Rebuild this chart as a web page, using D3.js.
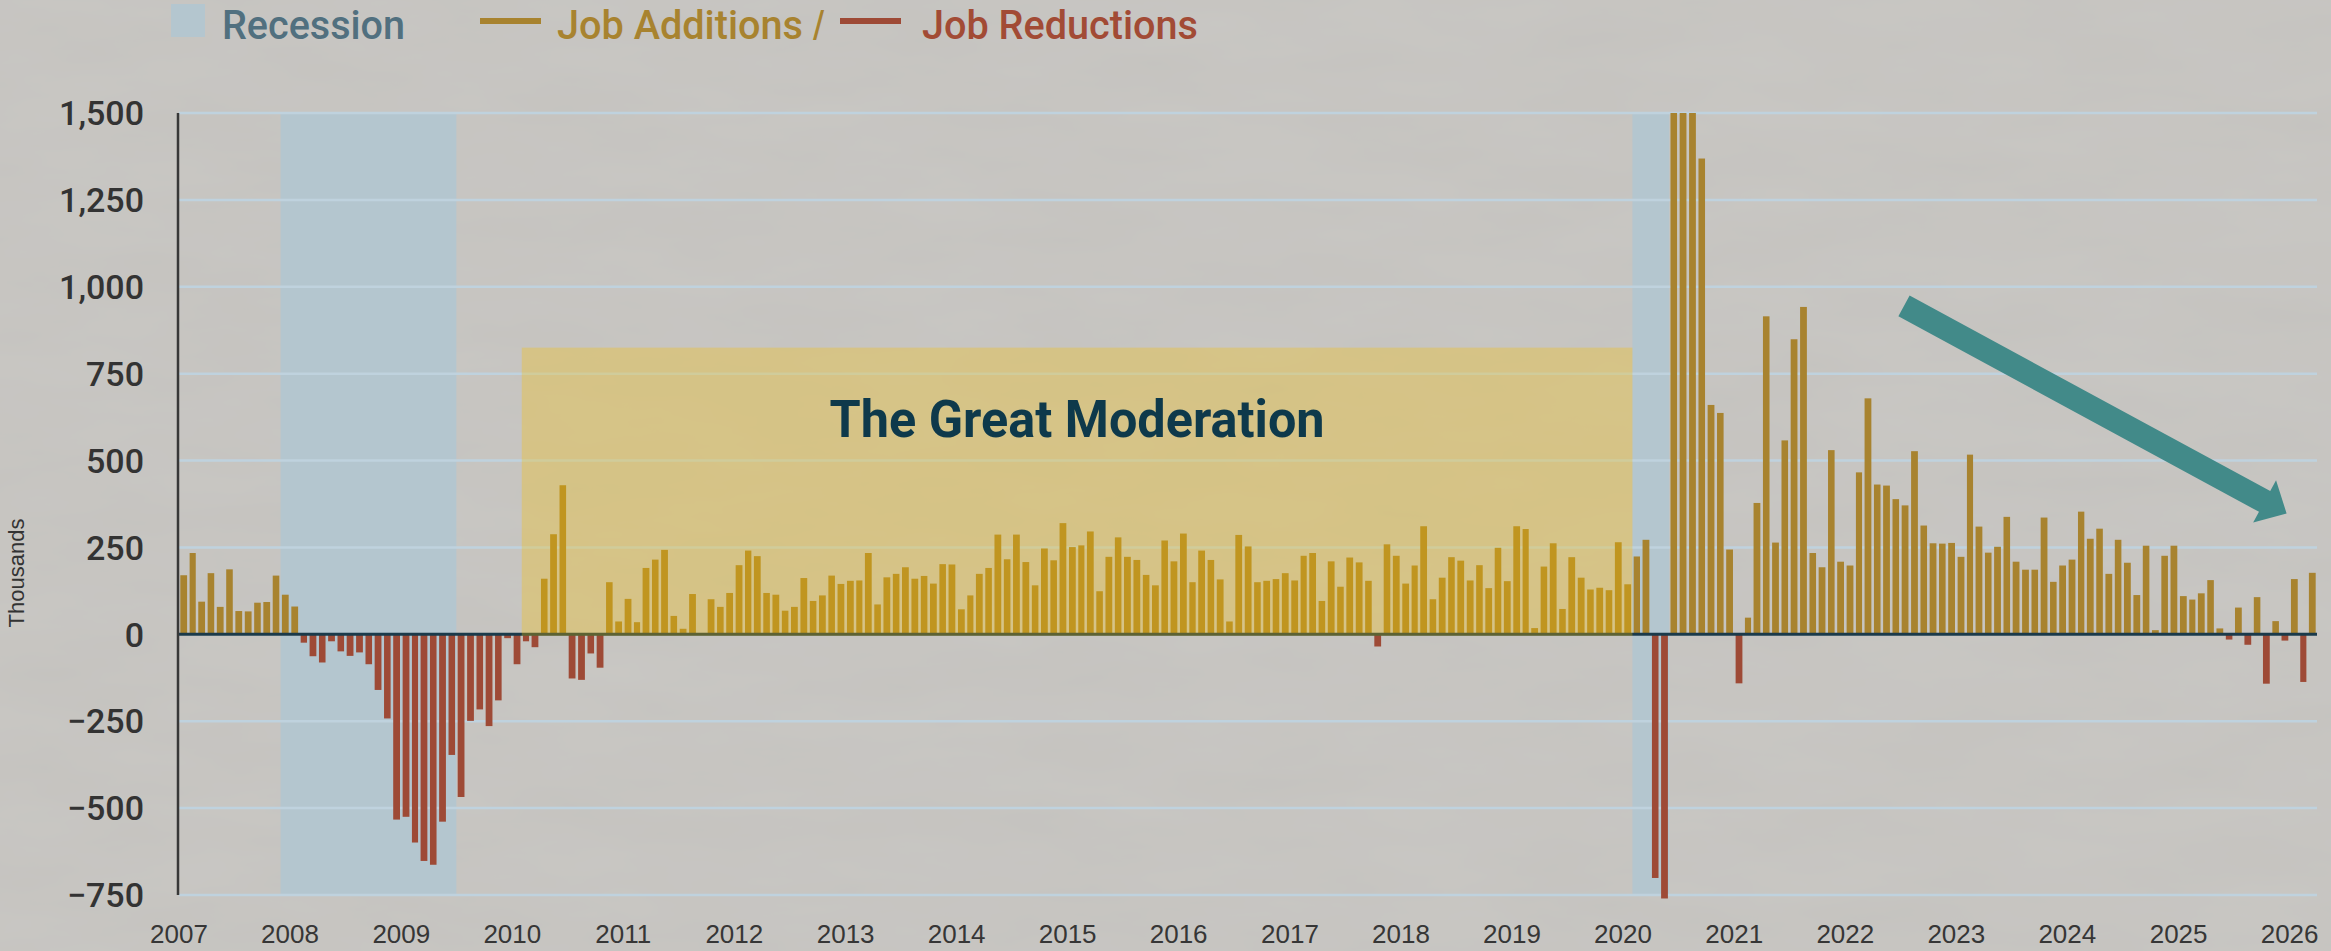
<!DOCTYPE html>
<html>
<head>
<meta charset="utf-8">
<script src="https://cdn.jsdelivr.net/npm/d3@7"></script>
<style>
  html, body { margin: 0; padding: 0; background: #c3c1bd; overflow: hidden; }
  svg { display: block; }
</style>
</head>
<body>
<svg id="chart"></svg>
<script>
// monthly change in payrolls, thousands, one value per month from Jan 2007
const firstMonth = "2007-01";
const jobChanges = [
  170, 234, 94, 176, 79, 187, 67, 66, 91, 93, 169, 114,              // 2007
  80, -24, -63, -81, -20, -49, -62, -52, -86, -160, -242, -533,       // 2008
  -525, -599, -652, -663, -539, -347, -468, -249, -216, -264, -190, -11, // 2009
  -86, -20, -37, 160, 288, 429, -127, -131, -55, -96, 150, 37,        // 2010
  102, 35, 191, 215, 243, 53, 16, 116, 0, 101, 79, 119,               // 2011
  199, 241, 225, 119, 114, 68, 79, 162, 96, 112, 169, 145,            // 2012
  154, 155, 234, 86, 164, 174, 193, 160, 168, 146, 202, 201,          // 2013
  72, 112, 174, 191, 287, 216, 287, 208, 141, 247, 213, 320,          // 2014
  251, 256, 296, 124, 223, 279, 223, 214, 171, 141, 270, 210,         // 2015
  290, 150, 241, 214, 158, 37, 286, 253, 150, 154, 159, 176,          // 2016
  155, 226, 234, 96, 210, 137, 221, 207, 154, -35, 259, 226,          // 2017
  146, 198, 311, 101, 163, 222, 212, 155, 199, 133, 249, 153,         // 2018
  311, 303, 18, 195, 262, 73, 222, 163, 129, 134, 127, 265,           // 2019
  144, 224, 272, -701, -760, 1500, 1500, 1500, 1369, 660, 637, 244,   // 2020 (clipped at chart edge)
  -141, 48, 378, 915, 264, 558, 849, 942, 234, 193, 530, 209,         // 2021
  198, 466, 679, 431, 428, 389, 371, 527, 313, 262, 261, 263,         // 2022
  223, 517, 310, 235, 252, 338, 209, 186, 186, 336, 151, 198,         // 2023
  215, 353, 275, 304, 174, 272, 206, 113, 255, 12, 226, 255,          // 2024
  110, 100, 118, 156, 17, -15, 77, -30, 107, -142, 38, -18,           // 2025
  159, -137, 177                                                      // 2026
];

const recessions = [["2007-12", "2009-07"], ["2020-02", "2020-06"]];
const moderationSpan = ["2010-02", "2020-02"];
const moderationTop = 825;
const moderationLabel = "The Great Moderation";
const yTickValues = [-750, -500, -250, 0, 250, 500, 750, 1000, 1250, 1500];
const xTickYears = [2007, 2008, 2009, 2010, 2011, 2012, 2013, 2014, 2015, 2016,
                    2017, 2018, 2019, 2020, 2021, 2022, 2023, 2024, 2025, 2026];
// trend arrow, start and tip in chart units
const arrowDates = ["2022-07-13", "2025-12-22"];
const arrowValues = [945, 348];

const W = 2331, H = 951;
const parseMonth = d3.timeParse("%Y-%m");
const parseDay = d3.timeParse("%Y-%m-%d");
const start = parseMonth(firstMonth);

const x = d3.scaleTime()
  .domain([start, parseMonth("2026-04")])
  .range([179, 2317]);
const y = d3.scaleLinear().domain([-750, 1500]).range([895, 113]);

const gold = "#a8832f", red = "#9e4a36", recessBlue = "#b4c6cf";

const svg = d3.select("#chart").attr("width", W).attr("height", H);

// paper texture
const defs = svg.append("defs");
const paper = defs.append("filter").attr("id", "paper").attr("x", 0).attr("y", 0).attr("width", "100%").attr("height", "100%");
paper.append("feTurbulence").attr("type", "fractalNoise").attr("baseFrequency", "0.006 0.02").attr("numOctaves", 4).attr("seed", 7);
paper.append("feColorMatrix").attr("type", "matrix")
  .attr("values", "0.35 0 0 0 0.45  0.35 0 0 0 0.45  0.35 0 0 0 0.45  0 0 0 0 0.09");

svg.append("rect").attr("width", W).attr("height", H).attr("fill", "#c6c4c0");
svg.append("rect").attr("width", W).attr("height", H).attr("filter", "url(#paper)");

// recession shading
svg.append("g").selectAll("rect").data(recessions).join("rect")
  .attr("x", d => x(parseMonth(d[0])))
  .attr("width", d => x(parseMonth(d[1])) - x(parseMonth(d[0])))
  .attr("y", y(1500))
  .attr("height", y(-750) - y(1500))
  .attr("fill", recessBlue);

// gridlines
svg.append("g").selectAll("line").data(yTickValues).join("line")
  .attr("x1", x.range()[0]).attr("x2", x.range()[1])
  .attr("y1", d => y(d)).attr("y2", d => y(d))
  .attr("stroke", "#bfd2de").attr("stroke-width", 2.5);

// bars
const months = jobChanges.map((v, i) => ({ date: d3.timeMonth.offset(start, i), value: v }));
svg.append("g").selectAll("rect").data(months).join("rect")
  .attr("x", d => {
    const x0 = x(d.date), x1 = x(d3.timeMonth.offset(d.date, 1));
    return x0 + (x1 - x0) * 0.14;
  })
  .attr("width", d => (x(d3.timeMonth.offset(d.date, 1)) - x(d.date)) * 0.72)
  .attr("y", d => y(Math.max(0, d.value)))
  .attr("height", d => Math.abs(y(d.value) - y(0)))
  .attr("fill", d => d.value >= 0 ? gold : red);

// zero line and y axis line
svg.append("line")
  .attr("x1", x.range()[0]).attr("x2", x.range()[1])
  .attr("y1", y(0)).attr("y2", y(0))
  .attr("stroke", "#1b3a4a").attr("stroke-width", 3);
svg.append("line")
  .attr("x1", 178).attr("x2", 178)
  .attr("y1", y(1500)).attr("y2", y(-750))
  .attr("stroke", "#383838").attr("stroke-width", 2.5);

// great moderation band, laid over the bars
const mx0 = x(parseMonth(moderationSpan[0])), mx1 = x(parseMonth(moderationSpan[1]));
svg.append("rect")
  .attr("x", mx0).attr("width", mx1 - mx0)
  .attr("y", y(moderationTop)).attr("height", y(0) - y(moderationTop) + 1.5)
  .attr("fill", "rgb(250,192,0)").attr("fill-opacity", 0.3);
svg.append("text")
  .attr("x", (mx0 + mx1) / 2).attr("y", 437)
  .attr("text-anchor", "middle")
  .attr("font-family", "Roboto, 'Liberation Sans', sans-serif")
  .attr("font-weight", 700).attr("font-size", 52)
  .attr("textLength", 495).attr("lengthAdjust", "spacingAndGlyphs")
  .attr("fill", "#0e394b")
  .text(moderationLabel);

// trend arrow
const p0 = [x(parseDay(arrowDates[0])), y(arrowValues[0])];
const p1 = [x(parseDay(arrowDates[1])), y(arrowValues[1])];
const len = Math.hypot(p1[0] - p0[0], p1[1] - p0[1]);
const u = [(p1[0] - p0[0]) / len, (p1[1] - p0[1]) / len];
const n = [-u[1], u[0]];
const headLen = 25, headHalf = 24, shaftHalf = 11.8;
const base = [p1[0] - u[0] * headLen, p1[1] - u[1] * headLen];
const pt = (p, k) => [p[0] + n[0] * k, p[1] + n[1] * k];
svg.append("polygon")
  .attr("points", [pt(p0, shaftHalf), pt(base, shaftHalf), pt(base, headHalf), p1,
                   pt(base, -headHalf), pt(base, -shaftHalf), pt(p0, -shaftHalf)].map(p => p.join(",")).join(" "))
  .attr("fill", "#428a89");

// y tick labels
svg.append("g").selectAll("text").data(yTickValues).join("text")
  .attr("x", 144).attr("y", d => y(d))
  .attr("dy", "0.36em")
  .attr("text-anchor", "end")
  .attr("font-family", "Roboto, 'Liberation Sans', sans-serif")
  .attr("font-weight", 500).attr("font-size", 34)
  .attr("fill", "#333")
  .text(d => d3.format(",")(d));

// x tick labels
svg.append("g").selectAll("text").data(xTickYears).join("text")
  .attr("x", d => x(new Date(d, 0, 1))).attr("y", 943)
  .attr("text-anchor", "middle")
  .attr("font-family", "'Liberation Sans', Arial, sans-serif")
  .attr("font-size", 26)
  .attr("fill", "#363636")
  .text(d => d);

svg.append("text")
  .attr("transform", "translate(24,573) rotate(-90)")
  .attr("text-anchor", "middle")
  .attr("font-family", "'Liberation Sans', Arial, sans-serif")
  .attr("font-size", 22)
  .attr("fill", "#333")
  .text("Thousands");

// legend
const legendFont = "Roboto, 'Liberation Sans', sans-serif";
const legend = svg.append("g");
legend.append("rect").attr("x", 171).attr("y", 4).attr("width", 34).attr("height", 33).attr("fill", recessBlue);
legend.append("text").attr("x", 222).attr("y", 38.5)
  .attr("font-family", legendFont).attr("font-weight", 500).attr("font-size", 40)
  .attr("textLength", 183).attr("lengthAdjust", "spacingAndGlyphs")
  .attr("fill", "#51707f").text("Recession");
legend.append("line").attr("x1", 480).attr("x2", 541).attr("y1", 21).attr("y2", 21)
  .attr("stroke", gold).attr("stroke-width", 6);
legend.append("text").attr("x", 557).attr("y", 38.5)
  .attr("font-family", legendFont).attr("font-weight", 500).attr("font-size", 40)
  .attr("textLength", 246).attr("lengthAdjust", "spacingAndGlyphs")
  .attr("fill", gold).text("Job Additions");
legend.append("text").attr("x", 813).attr("y", 40)
  .attr("font-family", "'Liberation Sans', sans-serif").attr("font-size", 40)
  .attr("fill", gold).text("/");
legend.append("line").attr("x1", 840).attr("x2", 901).attr("y1", 21).attr("y2", 21)
  .attr("stroke", red).attr("stroke-width", 6);
legend.append("text").attr("x", 922).attr("y", 38.5)
  .attr("font-family", legendFont).attr("font-weight", 500).attr("font-size", 40)
  .attr("textLength", 276).attr("lengthAdjust", "spacingAndGlyphs")
  .attr("fill", "#a24b35").text("Job Reductions");
</script>
</body>
</html>
